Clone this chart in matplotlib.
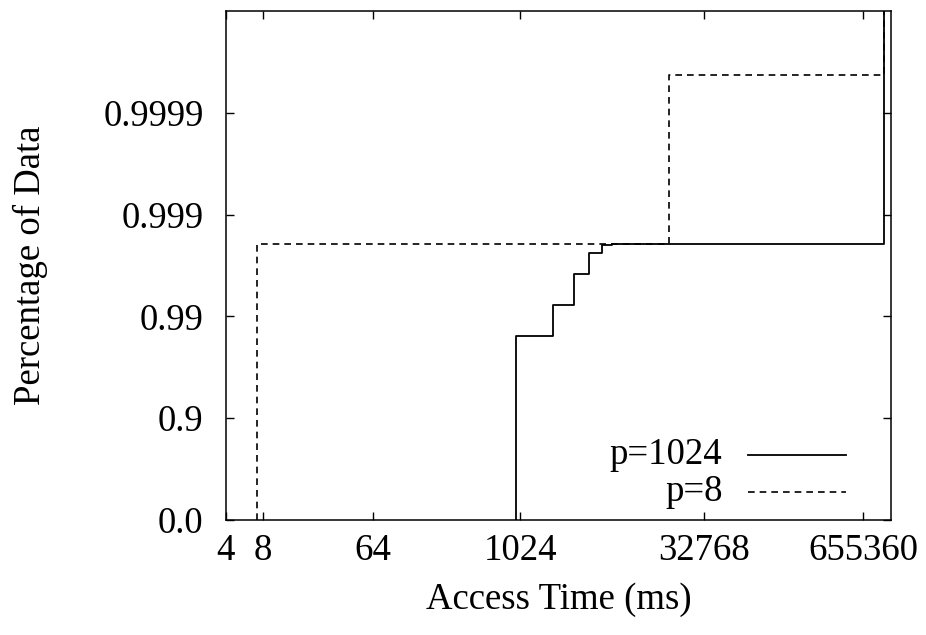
import matplotlib
matplotlib.use("Agg")
import matplotlib.pyplot as plt
import numpy as np

plt.rcParams['font.family'] = ['Liberation Serif', 'DejaVu Serif']
plt.rcParams['font.size'] = 26.5

# access time (ms) and cumulative fraction of data, step points
p1024_time = [936, 936, 1885, 2837, 3769, 4770, 5712, 964000, 964000]
p1024_frac = [0.0, 0.9845, 0.9922, 0.9962, 0.9976, 0.9980, 0.99805, 0.99805, 0.9999999]

p8_time = [7.15, 7.15, 16950, 16950, 964000, 964000]
p8_frac = [0.0, 0.99805, 0.99805, 0.999957, 0.999957, 0.9999999]

xticks = [4, 8, 64, 1024, 32768, 655360]
yticks = [0.0, 0.9, 0.99, 0.999, 0.9999]
ytick_labels = ["0.0", "0.9", "0.99", "0.999", "0.9999"]


def nines(p):
    p = np.asarray(p, dtype=float)
    with np.errstate(divide='ignore', invalid='ignore'):
        return -np.log10(np.clip(1 - p, 1e-12, None))


def un_nines(y):
    return 1 - 10 ** (-np.asarray(y, dtype=float))


fig = plt.figure(figsize=(9.26, 6.35), dpi=100)
ax = fig.add_axes([0.244, 0.181, 0.718, 0.802])

ax.plot(p1024_time, p1024_frac, color="black", lw=1.3, drawstyle="steps-post")
ax.plot(p8_time, p8_frac, color="black", lw=1.2, ls=(0, (4, 3)), drawstyle="steps-post")

ax.set_xscale("log", base=2)
ax.set_yscale("function", functions=(nines, un_nines))
ax.set_xlim(4, 1.1e6)
ax.set_ylim(0.0, 0.99999)

ax.set_xticks(xticks)
ax.set_xticklabels([str(t) for t in xticks])
ax.xaxis.set_minor_locator(matplotlib.ticker.NullLocator())
ax.set_yticks(yticks)
ax.set_yticklabels(ytick_labels)
ax.yaxis.set_minor_locator(matplotlib.ticker.NullLocator())

ax.tick_params(direction="in", top=True, right=True, length=6, width=1)
ax.tick_params(axis="x", pad=10)
ax.tick_params(axis="y", pad=16)
for s in ax.spines.values():
    s.set_linewidth(1.1)

fig.text(0.5 * (226 + 891) / 926, 1 - 600 / 635, "Access Time (ms)", ha="center", va="center")
fig.text(30 / 926, 1 - 265 / 635, "Percentage of Data", ha="center", va="center", rotation=90)

# gnuplot-style key: right-aligned label then line sample
ax.text(0.747, 0.128, "p=1024", transform=ax.transAxes, ha="right", va="center")
ax.plot([0.785, 0.932], [0.128, 0.128], transform=ax.transAxes, color="black", lw=1.3)
ax.text(0.747, 0.055, "p=8", transform=ax.transAxes, ha="right", va="center")
ax.plot([0.785, 0.932], [0.055, 0.055], transform=ax.transAxes, color="black", lw=1.2, ls=(0, (4, 3)))

fig.savefig("out.png", dpi=100)
